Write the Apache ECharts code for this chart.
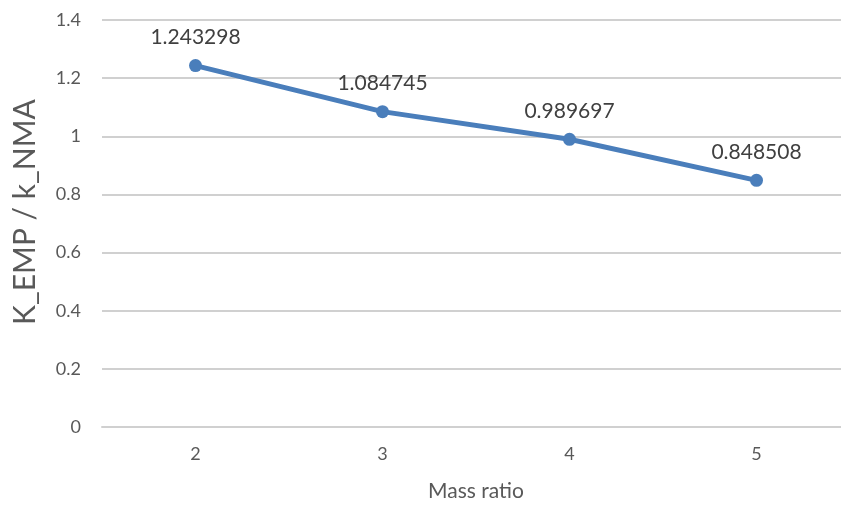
<!DOCTYPE html>
<html>
<head>
<meta charset="utf-8">
<script src="https://cdn.jsdelivr.net/npm/echarts@6/dist/echarts.min.js"></script>
<style>
  html, body { margin: 0; padding: 0; background: #fff; }
  #chart { width: 841px; height: 506px; }
</style>
</head>
<body>
<div id="chart"></div>
<script>
// Mass ratio categories and the measured K_EMP / k_NMA ratios
const massRatios = ['2', '3', '4', '5'];
const ratioValues = [1.243298, 1.084745, 0.989697, 0.848508];
const yTitle = 'K_EMP / k_NMA';
const xTitle = 'Mass ratio';

const FONT = 'Lato, "Open Sans", sans-serif';
const TEXT = '#595959';
const chart = echarts.init(document.getElementById('chart'), null, { renderer: 'canvas' });

chart.setOption({
  animation: false,
  backgroundColor: '#ffffff',
  // plot area runs past the right edge of the canvas
  grid: { left: 102, top: 20, width: 748, height: 407, containLabel: false, outerBoundsMode: 'none' },
  graphic: [{
    type: 'text',
    x: 25,
    y: 212,
    rotation: Math.PI / 2,
    style: {
      text: yTitle,
      fill: TEXT,
      font: '30px ' + FONT,
      align: 'center',
      verticalAlign: 'middle'
    }
  }],
  xAxis: {
    type: 'category',
    data: massRatios,
    boundaryGap: true,
    name: xTitle,
    nameLocation: 'middle',
    nameGap: 54,
    nameTextStyle: { color: TEXT, fontSize: 21, fontFamily: FONT },
    axisLine: { show: true, lineStyle: { color: '#d0d0d0', width: 2 } },
    axisTick: { show: false },
    axisLabel: { color: TEXT, fontSize: 18, fontFamily: FONT, margin: 18 }
  },
  yAxis: {
    type: 'value',
    min: 0,
    max: 1.4,
    interval: 0.2,
    axisLine: { show: false },
    axisTick: { show: false },
    axisLabel: {
      color: TEXT, fontSize: 18, fontFamily: FONT, margin: 21,
      formatter: v => String(Math.round(v * 10) / 10)
    },
    splitLine: { show: true, lineStyle: { color: '#d0d0d0', width: 2 } }
  },
  series: [{
    type: 'line',
    data: ratioValues,
    symbol: 'circle',
    symbolSize: 13,
    lineStyle: { color: '#4a7ebb', width: 5 },
    itemStyle: { color: '#4a7ebb' },
    label: {
      show: true,
      position: 'top',
      distance: 11,
      color: '#404040',
      fontSize: 21,
      fontFamily: FONT,
      formatter: p => String(p.value)
    }
  }]
});
</script>
</body>
</html>
